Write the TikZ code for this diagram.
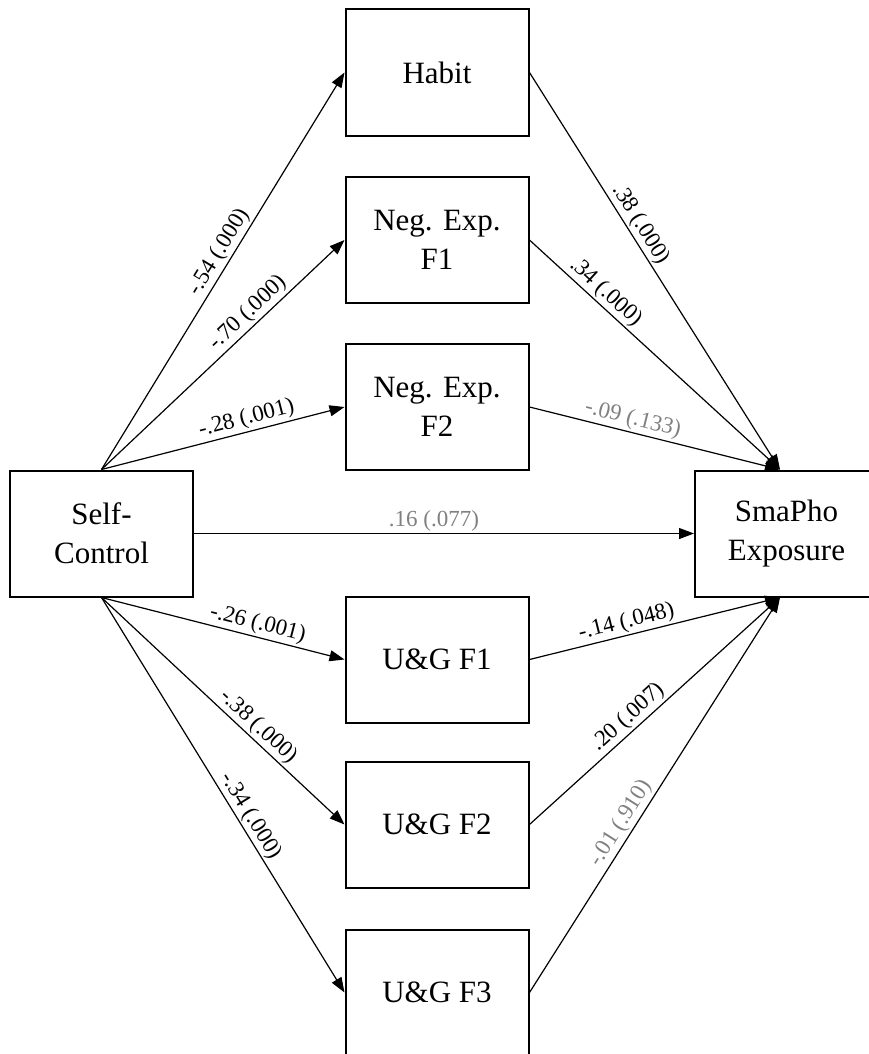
\documentclass[tikz,border=0pt]{standalone}
\usepackage{fontspec}
\setmainfont{Liberation Serif}
\usetikzlibrary{arrows.meta,calc}

\tikzset{
  var/.style={draw, line width=2pt, minimum width=183pt, minimum height=126pt,
    inner sep=0pt, align=center, font=\fontsize{31}{39}\selectfont},
  path/.style={line width=1.2pt, -{Triangle[length=15pt,width=11pt]}},
  coef/.style={sloped, above, inner sep=2pt, font=\fontsize{23}{26}\selectfont},
  ns/.style={coef, text=gray},
}

\begin{document}
\begin{tikzpicture}[x=1pt, y=-1pt]
\useasboundingbox (0,0) rectangle (869,1054);
\clip (0,0) rectangle (869,1054);

% variables
\node[var] (sc)   at (101.5,533.5) {Self-\\Control};
\node[var] (sp)   at (786.5,533.5) {SmaPho\\Exposure};
\node[var] (hab)  at (437,72.5)  {Habit};
\node[var] (ne1)  at (437,240)   {Neg. Exp.\\F1};
\node[var] (ne2)  at (437,407)   {Neg. Exp.\\F2};
\node[var] (ug1)  at (437,659.5) {U\&G F1};
\node[var] (ug2)  at (437,824.5) {U\&G F2};
\node[var] (ug3)  at (437,992.5) {U\&G F3};

% paths from self-control
\draw[path] (sc.north) -- (hab.west) node[coef, pos=0.53] {-.54 (.000)};
\draw[path] (sc.north) -- (ne1.west) node[coef, pos=0.64] {-.70 (.000)};
\draw[path] (sc.north) -- (ne2.west) node[coef, pos=0.61] {-.28 (.001)};
\draw[path] (sc.east)  -- (sp.west)  node[ns, pos=0.48] {.16 (.077)};
\draw[path] (sc.south) -- (ug1.west) node[coef, pos=0.63] {-.26 (.001)};
\draw[path] (sc.south) -- (ug2.west) node[coef, pos=0.61] {-.38 (.000)};
\draw[path] (sc.south) -- (ug3.west) node[coef, pos=0.57] {-.34 (.000)};

% paths into smartphone exposure
\draw[path] (hab.east) -- ([xshift=-6.5pt]sp.north) node[coef, pos=0.40] {.38 (.000)};
\draw[path] (ne1.east) -- ([xshift=-6.5pt]sp.north) node[coef, pos=0.27] {.34 (.000)};
\draw[path] (ne2.east) -- ([xshift=-6.5pt]sp.north) node[ns, pos=0.40] {-.09 (.133)};
\draw[path] (ug1.east) -- ([xshift=-6.5pt]sp.south) node[coef, pos=0.40] {-.14 (.048)};
\draw[path] (ug2.east) -- ([xshift=-6.5pt]sp.south) node[coef, pos=0.43] {.20 (.007)};
\draw[path] (ug3.east) -- ([xshift=-6.5pt]sp.south) node[ns, pos=0.41] {-.01 (.910)};
\end{tikzpicture}
\end{document}
